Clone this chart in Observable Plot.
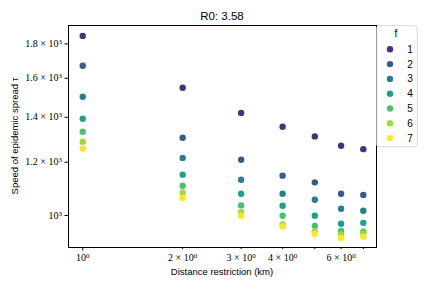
<!DOCTYPE html>
<html><head><meta charset="utf-8">
<script src="https://cdn.jsdelivr.net/npm/d3@7"></script>
<script src="https://cdn.jsdelivr.net/npm/@observablehq/plot@0.6"></script>
<style>body{margin:0;background:#fff}</style></head>
<body><div id="chart"></div>
<script>
const distances = [1, 2, 3, 4, 5, 6, 7];
const fLevels = [1, 2, 3, 4, 5, 6, 7];
const colors = ["#46327e", "#365c8d", "#277f8e", "#1fa187", "#4ac16d", "#a0da39", "#fde725"];
const speedF1 = [1850, 1549, 1421, 1355, 1311, 1270, 1255];
const speedF2 = [1670, 1305, 1210, 1146, 1120, 1077, 1073];
const speedF3 = [1502, 1218, 1130, 1077, 1055, 1023, 1016];
const speedF4 = [1393, 1150, 1077, 1034, 999, 972, 975];
const speedF5 = [1332, 1107, 1035, 999, 965, 948, 946];
const speedF6 = [1287, 1082, 1011, 970, 946, 937, 939];
const speedF7 = [1257, 1062, 999, 963, 939, 926, 930];
const yTicks = [1000, 1200, 1400, 1600, 1800];
const xMajorTicks = [1];
const xMinorLabeled = [2, 3, 4, 6];
const xMinorUnlabeled = [5, 7];
const title = "R0: 3.58";
const xLabel = "Distance restriction (km)";
const yLabel = "Speed of epidemic spread τ";
const legendTitle = "f";

const speeds = [speedF1, speedF2, speedF3, speedF4, speedF5, speedF6, speedF7];
const data = fLevels.flatMap((f, i) => distances.map((d, j) => ({f, d, v: speeds[i][j]})));

const fmtY = v => v === 1000 ? "10^3" : `${v / 1000} × 10^3`;
const fmtX = v => v === 1 ? "10^0" : `${v} × 10^0`;

const W = 432, H = 288, ML = 68, MR = 56, MT = 25, MB = 41;

const chart = Plot.plot({
  width: W, height: H, marginLeft: ML, marginRight: MR, marginTop: MT, marginBottom: MB,
  style: {background: "white", fontFamily: "Liberation Serif", fontSize: "10px", color: "#000"},
  x: {type: "log", domain: [0.906, 7.67]},
  y: {type: "log", domain: [896, 1917]},
  color: {type: "ordinal", domain: fLevels, range: colors},
  marks: [
    Plot.axisX({ticks: xMajorTicks, tickSize: 3.5, tickPadding: 3, tickFormat: fmtX, label: null}),
    Plot.axisX({ticks: xMinorLabeled, tickSize: 2, tickPadding: 4.5, tickFormat: fmtX, label: null}),
    Plot.axisX({ticks: xMinorUnlabeled, tickSize: 2, tickFormat: () => "", label: null}),
    Plot.axisY({ticks: yTicks, tickSize: 3.5, tickPadding: 3, tickFormat: fmtY, label: null}),
    Plot.dot(data, {x: "d", y: "v", fill: "f", r: 3.2}),
    Plot.frame({stroke: "black", strokeWidth: 1})
  ]
});
document.getElementById("chart").appendChild(chart);

const svg = d3.select(chart);
// superscripts
svg.selectAll("text").each(function () {
  const t = d3.select(this);
  const s = this.textContent;
  if (!s.includes("^")) return;
  const [base, exp] = s.split("^");
  t.text(null);
  t.append("tspan").text(base);
  t.append("tspan").attr("dy", "-0.45em").attr("font-size", "7px").text(exp);
});

const sans = "Liberation Sans";
svg.append("text").attr("x", (ML + W - MR) / 2).attr("y", 19.5).attr("text-anchor", "middle")
  .attr("font-family", sans).attr("font-size", "11.5px").attr("fill", "#000").text(title);
svg.append("text").attr("x", (ML + W - MR) / 2).attr("y", 275).attr("text-anchor", "middle")
  .attr("font-family", sans).attr("font-size", "9.5px").attr("fill", "#000").text(xLabel);
svg.append("text").attr("transform", `translate(18,${(MT + H - MB) / 2}) rotate(-90)`)
  .attr("text-anchor", "middle").attr("font-family", sans).attr("font-size", "9.5px")
  .attr("fill", "#000").text(yLabel);

// legend
const lg = svg.append("g");
lg.append("rect").attr("x", 376.7).attr("y", 25.7).attr("width", 40.6).attr("height", 121)
  .attr("rx", 2).attr("fill", "white").attr("fill-opacity", 0.8).attr("stroke", "#d0d0d0").attr("stroke-width", 0.8);
lg.append("text").attr("x", 396).attr("y", 37).attr("text-anchor", "middle")
  .attr("font-family", sans).attr("font-size", "10px").attr("fill", "#000").text(legendTitle);
fLevels.forEach((f, i) => {
  const cy = 49.3 + i * 14.8;
  lg.append("circle").attr("cx", 390).attr("cy", cy).attr("r", 3.2).attr("fill", colors[i]);
  lg.append("text").attr("x", 410).attr("y", cy + 3.5).attr("text-anchor", "middle")
    .attr("font-family", sans).attr("font-size", "10px").attr("fill", "#000").text(f);
});
</script>
</body></html>
